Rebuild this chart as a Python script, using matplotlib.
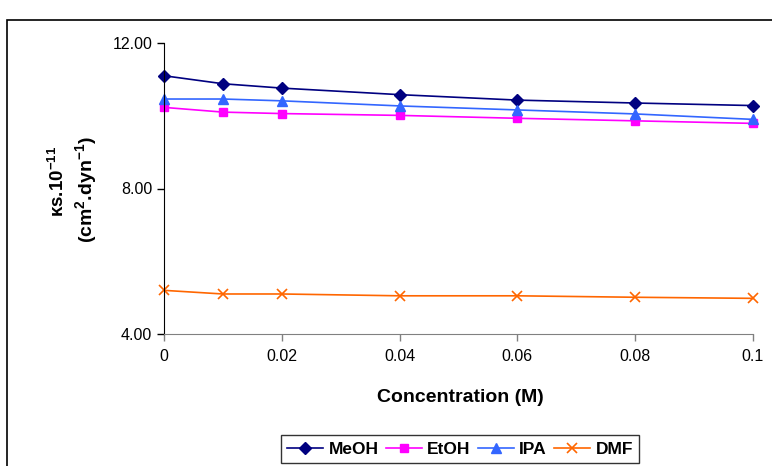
import matplotlib.pyplot as plt
from matplotlib.patches import Rectangle

plt.rcParams['font.family'] = ['Liberation Sans', 'DejaVu Sans']
plt.rcParams['mathtext.fontset'] = 'custom'
plt.rcParams['mathtext.rm'] = 'Liberation Sans'
plt.rcParams['mathtext.bf'] = 'Liberation Sans:bold'
plt.rcParams['mathtext.default'] = 'bf'

conc = [0, 0.01, 0.02, 0.04, 0.06, 0.08, 0.1]
meoh = [11.10, 10.88, 10.76, 10.58, 10.43, 10.35, 10.28]
etoh = [10.23, 10.10, 10.06, 10.01, 9.93, 9.86, 9.79]
ipa = [10.46, 10.46, 10.41, 10.27, 10.16, 10.05, 9.90]
dmf = [5.20, 5.10, 5.10, 5.05, 5.05, 5.01, 4.98]

xticks = [0, 0.02, 0.04, 0.06, 0.08, 0.1]
xticklabels = ["0", "0.02", "0.04", "0.06", "0.08", "0.1"]
yticks = [4, 8, 12]

fig = plt.figure(figsize=(7.72, 4.66), dpi=100)
ax = fig.add_axes([164/772, 1 - 334/466, (753 - 164)/772, (334 - 43)/466])

ax.plot(conc, meoh, color='#000080', marker='D', ms=6, lw=1.2, label='MeOH')
ax.plot(conc, etoh, color='#ff00ff', marker='s', ms=6, lw=1.2, label='EtOH')
ax.plot(conc, ipa, color='#3366ff', marker='^', ms=7, lw=1.2, label='IPA')
ax.plot(conc, dmf, color='#ff6600', marker='x', ms=7, mew=1.2, lw=1.2, label='DMF')

ax.set_xlim(0, 0.1)
ax.set_ylim(4, 12)
ax.set_xticks(xticks)
ax.set_xticklabels(xticklabels)
ax.set_yticks(yticks)
ax.set_yticklabels([f"{v:.2f}" for v in yticks])
ax.tick_params(labelsize=11.5, length=5, width=1)
ax.tick_params(axis='x', color='#808080', pad=6)
ax.spines['top'].set_visible(False)
ax.spines['right'].set_visible(False)
ax.spines['bottom'].set_color('#808080')
for line in ax.lines:
    line.set_clip_on(False)

fig.text(460/772, 1 - 397/466, "Concentration (M)", ha='center', va='center',
         fontsize=14, fontweight='bold')
fig.text(58/772, 1 - 181/466, "κs.10$^{-11}$", ha='center', va='center',
         rotation=90, fontsize=13.5, fontweight='bold')
fig.text(86/772, 1 - 190/466, "(cm$^{2}$.dyn$^{-1}$)", ha='center', va='center',
         rotation=90, fontsize=14, fontweight='bold')

leg = fig.legend(loc='center', bbox_to_anchor=(460/772, 1 - 449/466), ncol=4,
                 frameon=True, fancybox=False, edgecolor='black',
                 prop={'weight': 'bold', 'size': 12.5}, handlelength=2.1,
                 columnspacing=0.4, handletextpad=0.3, borderpad=0.35,
                 borderaxespad=0.2)
leg.get_frame().set_linewidth(1)

fig.patches.append(Rectangle((7/772, -0.1), 1.2, (1 - 20/466) + 0.1,
                             transform=fig.transFigure, fill=False,
                             edgecolor='black', lw=1.2))

fig.savefig('out.png', dpi=100)
